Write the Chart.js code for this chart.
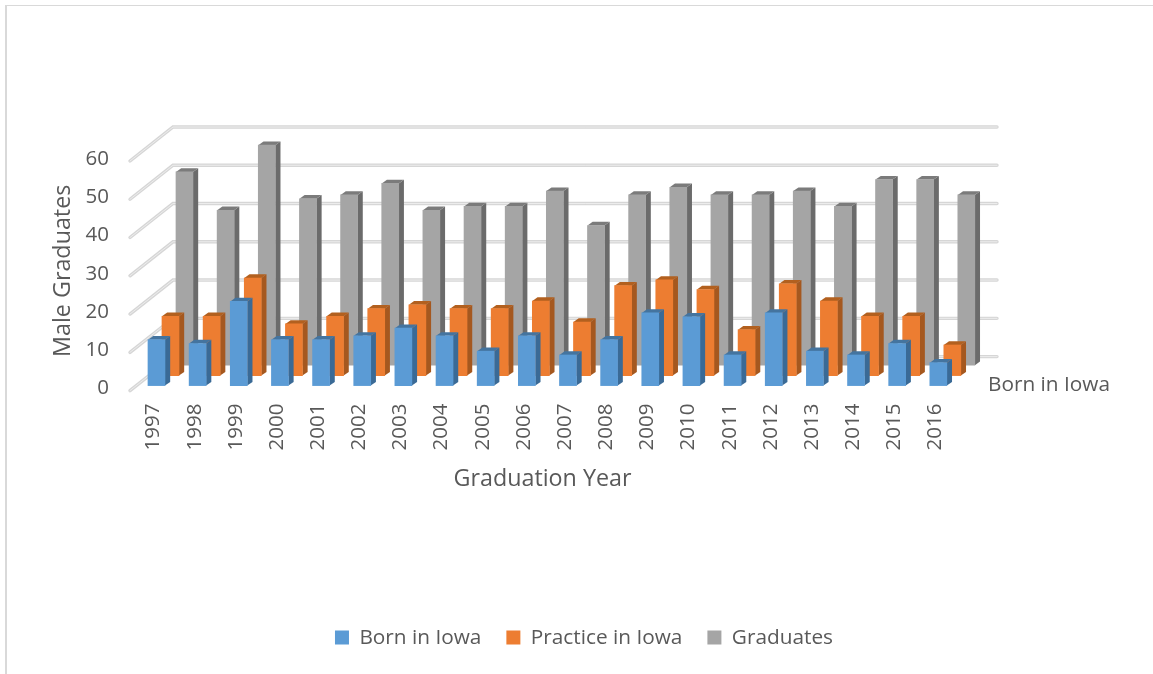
<!DOCTYPE html>
<html><head><meta charset="utf-8">
<script src="https://cdn.jsdelivr.net/npm/chart.js@4"></script>
<style>html,body{margin:0;padding:0;background:#fff}canvas{display:block}</style>
</head><body><canvas id="c" width="1153" height="674"></canvas>
<script>
const categories = ["1997","1998","1999","2000","2001","2002","2003","2004","2005","2006","2007","2008","2009","2010","2011","2012","2013","2014","2015","2016"];
const bornInIowa = [12,11,22,12,12,13,15,13,9,13,8,12,19,18,8,19,9,8,11,6];
const practiceInIowa = [15.5,15.5,25.5,13.5,15.5,17.5,18.5,17.5,17.5,19.5,14,23.5,25,22.5,12,24,19.5,15.5,15.5,8];
const graduates = [50.5,40.5,57.5,43.5,44.5,47.5,40.5,41.5,41.5,45.5,36.5,44.5,46.5,44.5,44.5,45.5,41.5,48.5,48.5,44.5];
const yTicks = [0,10,20,30,40,50,60];
const depthLabel = "Born in Iowa";

const TXT = '#595959', FONT = '"Open Sans"';
const fronts = ['#5B9BD5','#ED7D31','#A5A5A5'];
const sides  = ['#3A6A96','#A5581F','#6B6B6B'];
const tops   = ['#44749F','#B2601F','#7B7B7B'];
const shift  = [[4.9,0],[18.9,-10],[32.9,-20.4]];

const scene = {
  id:'scene',
  beforeDraw(chart){
    const c = chart.ctx;
    c.save();
    c.fillStyle='#fff'; c.fillRect(0,0,chart.width,chart.height);
    c.fillStyle='#D9D9D9';
    c.fillRect(5,5,chart.width-5,1);
    c.fillRect(5,5,2,chart.height-5);
    c.restore();
  },
  beforeDatasetsDraw(chart){
    const c = chart.ctx, y = chart.scales.y, a = chart.chartArea;
    c.save();
    c.lineCap='round';
    yTicks.forEach(v=>{
      const p = y.getPixelForValue(v);
      const path = ()=>{c.beginPath();c.moveTo(a.left-1,p+5);c.lineTo(a.left+42,p-29);c.lineTo(997,p-29);c.stroke();};
      c.strokeStyle='#D6D6D6'; c.lineWidth=3.4; path();
      c.strokeStyle='#EDEDED'; c.lineWidth=1; path();
    });
    c.fillStyle=TXT; c.font='20.8px '+FONT; c.textAlign='left'; c.textBaseline='middle';
    c.fillText(depthLabel,988,385);
    c.restore();
  },
  beforeDatasetDraw(chart,args){
    const c = chart.ctx, i = args.index, [dx,dy] = shift[i];
    c.save();
    c.translate(dx,dy);
    const ox=5.2, oy=-3.7;
    args.meta.data.forEach(b=>{
      const {x,y,width,base} = b.getProps(['x','y','width','base'],true);
      const r = x+width/2, l = x-width/2;
      c.fillStyle=sides[i];
      c.beginPath();c.moveTo(r,y);c.lineTo(r+ox,y+oy);c.lineTo(r+ox,base+oy);c.lineTo(r,base);c.closePath();c.fill();
      c.fillStyle=tops[i];
      c.beginPath();c.moveTo(l,y);c.lineTo(l+ox,y+oy);c.lineTo(r+ox,y+oy);c.lineTo(r,y);c.closePath();c.fill();
    });
  },
  afterDatasetDraw(chart){ chart.ctx.restore(); }
};

new Chart(document.getElementById('c'),{
  type:'bar',
  data:{labels:categories,datasets:[
    {label:'Born in Iowa',data:bornInIowa,backgroundColor:fronts[0]},
    {label:'Practice in Iowa',data:practiceInIowa,backgroundColor:fronts[1]},
    {label:'Graduates',data:graduates,backgroundColor:fronts[2]}
  ]},
  options:{
    responsive:false,animation:false,clip:false,
    layout:{padding:{left:20,top:156,right:5,bottom:16}},
    datasets:{bar:{grouped:false,barThickness:17,borderWidth:0,clip:false}},
    scales:{
      x:{grid:{display:false},border:{display:false},
        afterFit(s){s.height=216.6;},
        ticks:{color:TXT,font:{family:FONT,size:20.5},minRotation:90,maxRotation:90,padding:10,labelOffset:2,autoSkip:false},
        title:{display:true,text:'Graduation Year',color:TXT,font:{family:FONT,size:23.3},padding:{top:0,bottom:108.6}}},
      y:{min:0,max:60,grid:{display:false},border:{display:false},
        afterFit(s){s.width=111;},
        afterBuildTicks(s){s.ticks=yTicks.map(v=>({value:v}));},
        ticks:{color:TXT,font:{family:FONT,size:20.5},padding:14,labelOffset:3},
        title:{display:true,text:'Male Graduates',color:TXT,font:{family:FONT,size:23.3},padding:{top:29,bottom:0}}},
      rightGutter:{position:'right',min:0,max:60,grid:{display:false},border:{display:false},ticks:{display:false},
        afterFit(s){s.width=194;}}
    },
    plugins:{
      tooltip:{enabled:false},
      legend:{position:'bottom',labels:{color:TXT,font:{family:FONT,size:20.8},boxWidth:14,boxHeight:14,padding:25}}
    }
  },
  plugins:[scene]
});
</script></body></html>
